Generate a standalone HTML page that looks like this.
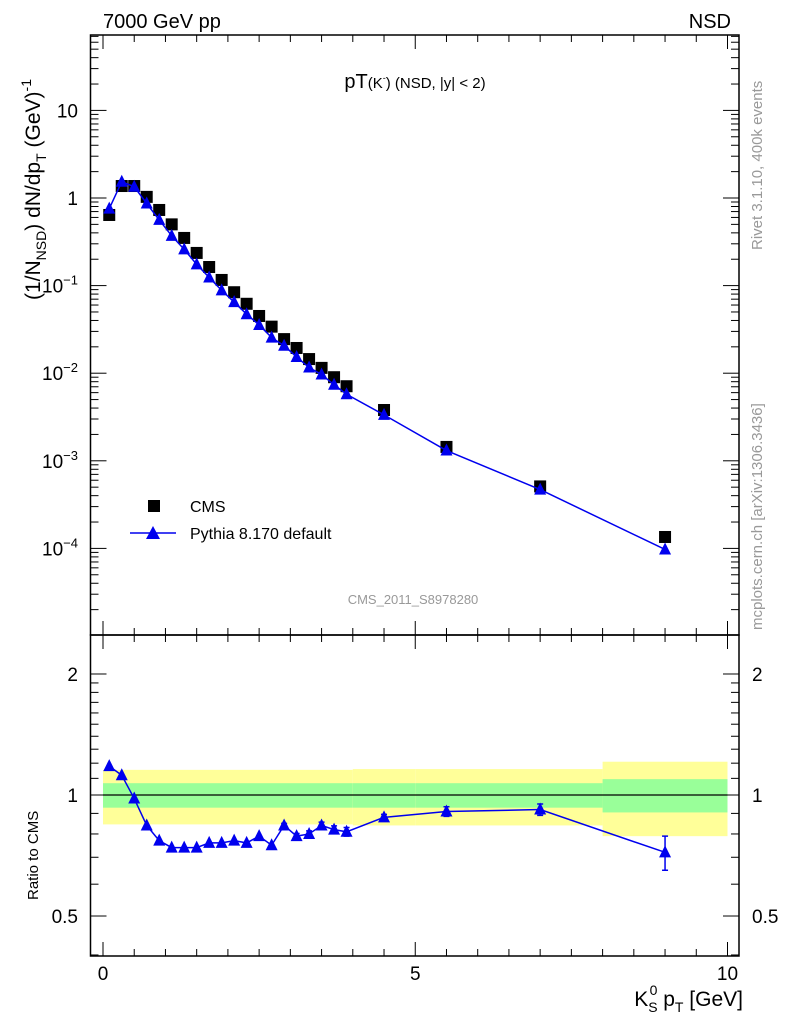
<!DOCTYPE html>
<html><head><meta charset="utf-8">
<style>
html,body{margin:0;padding:0;background:#fff;}
svg{display:block;font-family:"Liberation Sans",sans-serif;}
</style></head>
<body>
<svg id="chart" width="786" height="1024" viewBox="0 0 786 1024">
<g id="g-top"></g>
<g id="g-bot"></g>
<text x="103" y="28" font-size="20">7000 GeV pp</text>
<text x="731" y="28" font-size="20" text-anchor="end">NSD</text>
<text x="415" y="88" font-size="20" text-anchor="middle">pT<tspan font-size="15">(K</tspan><tspan font-size="9" dy="-7">-</tspan><tspan font-size="15" dy="7">) (NSD, |y| &lt; 2)</tspan></text>
<text x="413" y="604" font-size="13" fill="#999" text-anchor="middle">CMS_2011_S8978280</text>
<text transform="translate(762,250) rotate(-90)" font-size="15" fill="#999">Rivet 3.1.10,  400k events</text>
<text transform="translate(762,630) rotate(-90)" font-size="15" fill="#999">mcplots.cern.ch [arXiv:1306.3436]</text>
<text transform="translate(40,300) rotate(-90)" font-size="21">(1/N<tspan font-size="14" dy="6">NSD</tspan><tspan dy="-6">) dN/dp</tspan><tspan font-size="14" dy="6">T</tspan><tspan dy="-6"> (GeV)</tspan><tspan font-size="14" dy="-9">-1</tspan></text>
<text transform="translate(38,900) rotate(-90)" font-size="15">Ratio to CMS</text>
<text x="743" y="1006" font-size="21" text-anchor="end">K<tspan font-size="14" dy="6">S</tspan><tspan font-size="14" dx="-8" dy="-17">0</tspan><tspan dy="11"> p</tspan><tspan font-size="14" dy="6">T</tspan><tspan dy="-6"> [GeV]</tspan></text>
<g>
<rect x="148" y="500" width="12" height="12" fill="#000"/>
<text x="190" y="512" font-size="16">CMS</text>
<line x1="130" y1="533" x2="176" y2="533" stroke="#0000ee" stroke-width="1.5"/>
<polygon points="146,539 160,539 153,526" fill="#0000ee"/>
<text x="190" y="539" font-size="16">Pythia 8.170 default</text>
</g>
</svg>
<script>
const xs = [0.1,0.3,0.5,0.7,0.9,1.1,1.3,1.5,1.7,1.9,2.1,2.3,2.5,2.7,2.9,3.1,3.3,3.5,3.7,3.9,4.5,5.5,7.0,9.0];
const cmsVals = [0.64,1.37,1.37,1.03,0.73,0.50,0.35,0.236,0.163,0.116,0.084,0.062,0.045,0.034,0.0245,0.0194,0.0145,0.0115,0.0090,0.0071,0.0038,0.00144,0.00051,0.000135];
const ratioVals = [1.18,1.12,0.98,0.84,0.77,0.74,0.74,0.74,0.76,0.76,0.77,0.76,0.79,0.75,0.84,0.79,0.80,0.84,0.82,0.81,0.88,0.91,0.92,0.72];
const ratioErr = [0,0,0,0,0,0,0,0,0,0,0,0,0,0,0.01,0.012,0.014,0.016,0.018,0.02,0.015,0.025,0.03,0.07];
const bandEdges = [0,4,5,8,10];
const bandYellow = [0.155,0.16,0.16,0.21];
const bandGreen = [0.07,0.07,0.07,0.095];
const yTickVals = [10,1,0.1,0.01,0.001,0.0001];
const yTickLabels = ["10","1","10<tspan font-size='13' dy='-8'>−1</tspan>","10<tspan font-size='13' dy='-8'>−2</tspan>","10<tspan font-size='13' dy='-8'>−3</tspan>","10<tspan font-size='13' dy='-8'>−4</tspan>"];
const rTickVals = [0.5,1,2];
const rTickLabels = ["0.5","1","2"];
const xTickVals = [0,5,10];

const NS="http://www.w3.org/2000/svg";
const L=90.5,R=739,T=35,MB=635,BB=956;
const X=v=>103+v*62.45;
const Y=v=>198-87.6*Math.log10(v);
const YR=v=>795-402*Math.log10(v);
function mk(tag,attrs,parent){const e=document.createElementNS(NS,tag);for(const k in attrs)e.setAttribute(k,attrs[k]);parent.appendChild(e);return e;}
const gTop=document.getElementById('g-top'), gBot=document.getElementById('g-bot');

for(let i=0;i<bandEdges.length-1;i++){
  const x1=X(bandEdges[i]),x2=X(bandEdges[i+1]);
  let r=mk('rect',{x:x1,y:YR(1+bandYellow[i]),width:x2-x1,height:YR(1-bandYellow[i])-YR(1+bandYellow[i]),fill:'#ffff99'},gBot);
  
  
  r=mk('rect',{x:x1,y:YR(1+bandGreen[i]),width:x2-x1,height:YR(1-bandGreen[i])-YR(1+bandGreen[i]),fill:'#99ff99'},gBot);
  
  
}
let ln=mk('line',{x1:X(0),x2:X(10),y1:YR(1),y2:YR(1),stroke:'#000','stroke-width':1.2},gBot);



for(const [g,t,b] of [[gTop,T,MB],[gBot,MB,BB]]){
  const f=mk('rect',{x:L,y:t,width:R-L,height:b-t,fill:'none',stroke:'#000','stroke-width':1.5},g);
  
  
}
for(let v=0;v<=10.001;v+=0.5){
  const major=Math.abs(v-Math.round(v/5)*5)<1e-6, l=major?14:7;
  for(const [t,b] of [[T,MB],[MB,BB]]){
    mk('line',{x1:X(v),x2:X(v),y1:b,y2:b-l,stroke:'#000'},gTop);
    mk('line',{x1:X(v),x2:X(v),y1:t,y2:t+l,stroke:'#000'},gTop);
  }
}
xTickVals.forEach(v=>{const t=mk('text',{x:X(v),y:980,'font-size':19,'text-anchor':'middle'},gBot);t.textContent=v;
  
  });
for(let e=-5;e<=1;e++){for(let m=1;m<10;m++){const v=m*Math.pow(10,e);const y=Y(v);if(y<T||y>MB)continue;
  const l=m==1?16:8;
  mk('line',{x1:L,x2:L+l,y1:y,y2:y,stroke:'#000'},gTop);
  mk('line',{x1:R,x2:R-l,y1:y,y2:y,stroke:'#000'},gTop);}}
yTickVals.forEach((v,i)=>{const t=mk('text',{x:78,y:Y(v)+7,'font-size':19,'text-anchor':'end'},gTop);t.innerHTML=yTickLabels[i];
  
  });
[0.4,0.5,0.6,0.7,0.8,0.9,1,2,1.1,1.2,1.3,1.4,1.5,1.6,1.7,1.8,1.9].forEach(v=>{const y=YR(v);if(y<MB||y>BB)return;
  const l=(v==0.5||v==1||v==2)?16:8;
  mk('line',{x1:L,x2:L+l,y1:y,y2:y,stroke:'#000'},gBot);
  mk('line',{x1:R,x2:R-l,y1:y,y2:y,stroke:'#000'},gBot);});
rTickVals.forEach((v,i)=>{let t=mk('text',{x:78,y:YR(v)+7,'font-size':19,'text-anchor':'end'},gBot);t.textContent=rTickLabels[i];
  
  
  t=mk('text',{x:752,y:YR(v)+7,'font-size':19},gBot);t.textContent=rTickLabels[i];
  
  });

xs.forEach((x,i)=>{const r=mk('rect',{x:X(x)-6,y:Y(cmsVals[i])-6,width:12,height:12,fill:'#000'},gTop);
  
  });
const py=xs.map((x,i)=>[X(x),Y(cmsVals[i]*ratioVals[i])]);
let pl=mk('polyline',{points:py.map(p=>p.join(',')).join(' '),fill:'none',stroke:'#0000ee','stroke-width':1.5},gTop);


py.forEach(p=>{const t=mk('polygon',{points:`${p[0]-6},${p[1]+5} ${p[0]+6},${p[1]+5} ${p[0]},${p[1]-7}`,fill:'#0000ee'},gTop);
  
  });
const rp=xs.map((x,i)=>[X(x),YR(ratioVals[i])]);
pl=mk('polyline',{points:rp.map(p=>p.join(',')).join(' '),fill:'none',stroke:'#0000ee','stroke-width':1.5},gBot);


rp.forEach((p,i)=>{
  if(ratioErr[i]>0){const y1=YR(ratioVals[i]+ratioErr[i]),y2=YR(ratioVals[i]-ratioErr[i]);
    const e=mk('path',{d:`M${p[0]},${y1}V${y2}M${p[0]-3},${y1}H${p[0]+3}M${p[0]-3},${y2}H${p[0]+3}`,stroke:'#0000ee','stroke-width':1.5},gBot);
    
    }
  const t=mk('polygon',{points:`${p[0]-6},${p[1]+5} ${p[0]+6},${p[1]+5} ${p[0]},${p[1]-7}`,fill:'#0000ee'},gBot);
  
  });
</script>
</body></html>
